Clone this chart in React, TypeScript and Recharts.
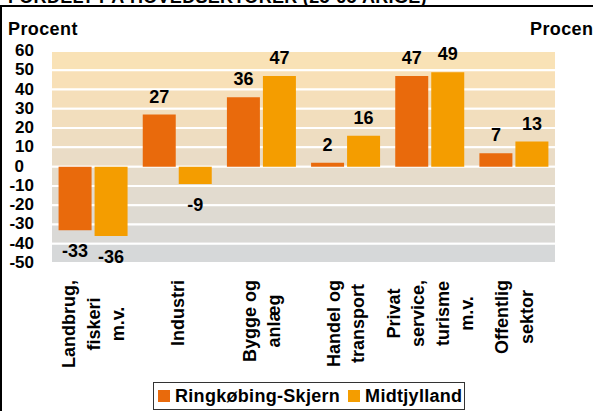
import { Bar, BarChart, LabelList, ReferenceArea, XAxis, YAxis } from 'recharts';

const categories = [
  'Landbrug,\nfiskeri\nm.v.',
  'Industri',
  'Bygge og\nanlæg',
  'Handel og\ntransport',
  'Privat\nservice,\nturisme\nm.v.',
  'Offentlig\nsektor'
];
const ringkobingSkjern = [-33, 27, 36, 2, 47, 7];
const midtjylland = [-36, -9, 47, 16, 49, 13];
const yTicks = [-50, -40, -30, -20, -10, 0, 10, 20, 30, 40, 50, 60];
const seriesNames = ['Ringkøbing-Skjern', 'Midtjylland'];

// band shades from the top band (50..60) down to the bottom one (-50..-40)
const bandColors = [
  '#F9E2B6', '#F8E0B7', '#F5DFBA', '#F2DEBD', '#EEDDC1', '#EADCC6',
  '#E6DCCB', '#E2DBCF', '#DEDAD2', '#DAD9D6', '#D6D8D9'
];

const ORANGE = '#E96A0C';
const YELLOW = '#F49D00';
const FONT = "Arial, 'Liberation Sans', Helvetica, sans-serif";

const data = categories.map((name, i) => ({
  name,
  rs: ringkobingSkjern[i],
  mj: midtjylland[i]
}));

const bands = bandColors.map((color, i) => ({
  y2: yTicks[yTicks.length - 1 - i],
  y1: yTicks[yTicks.length - 2 - i],
  color
}));

let measureCtx: CanvasRenderingContext2D | null = null;
function textWidth(s: string) {
  if (!measureCtx) {
    measureCtx = document.createElement('canvas').getContext('2d');
  }
  if (!measureCtx) return s.length * 10;
  measureCtx.font = `bold 18px ${FONT}`;
  return measureCtx.measureText(s).width;
}

function CategoryTick(props: any) {
  const { x, y, payload } = props;
  const lines: string[] = String(payload.value).split('\n');
  const maxW = Math.max(...lines.map(textWidth));
  const cy = y + 17 + maxW / 2;
  const n = lines.length;
  return (
    <g transform={`translate(${x},${cy}) rotate(-90)`}>
      {lines.map((line, i) => (
        <text
          key={i}
          x={0}
          y={(i - (n - 1) / 2) * 24.5 + 6.5}
          textAnchor="middle"
          fontSize={18}
          fontWeight="bold"
          fontFamily={FONT}
          fill="#000"
        >
          {line}
        </text>
      ))}
    </g>
  );
}

function LeftTick(props: any) {
  const { y, payload } = props;
  const v = payload.value;
  return (
    <text
      x={v === 0 ? 24 : 34}
      y={y + 5}
      textAnchor="end"
      fontSize={17}
      fontWeight="bold"
      fontFamily={FONT}
      fill="#000"
    >
      {v}
    </text>
  );
}

function RightTick(props: any) {
  const { y, payload } = props;
  return (
    <text
      x={570}
      y={y + 5}
      textAnchor="start"
      fontSize={17}
      fontWeight="bold"
      fontFamily={FONT}
      fill="#000"
    >
      {payload.value}
    </text>
  );
}

function ValueLabel(props: any) {
  const { x, y, width, height, value } = props;
  const top = Math.min(y, y + height);
  const bottom = Math.max(y, y + height);
  const ty = value < 0 ? bottom + 27 : top - 12;
  return (
    <text
      x={x + width / 2}
      y={ty}
      textAnchor="middle"
      fontSize={18}
      fontWeight="bold"
      fontFamily={FONT}
      fill="#000"
    >
      {value}
    </text>
  );
}

const textStyle = {
  position: 'absolute' as const,
  fontFamily: FONT,
  fontWeight: 'bold' as const,
  fontSize: 18,
  lineHeight: '18px',
  whiteSpace: 'nowrap' as const,
  color: '#000'
};

export default function App() {
  return (
    <div
      style={{
        position: 'absolute',
        left: 0,
        top: 0,
        width: 593,
        height: 411,
        overflow: 'hidden',
        background: '#fff'
      }}
    >
      <div style={{ ...textStyle, left: 8, top: -12, letterSpacing: 0.3 }}>
        FORDELT PÅ HOVEDSEKTORER (25-65 ÅRIGE)
      </div>
      <div
        style={{
          position: 'absolute',
          left: 0,
          top: 5,
          width: 700,
          height: 500,
          border: '2px solid #000'
        }}
      />
      <div style={{ ...textStyle, left: 8, top: 20, letterSpacing: 0.4 }}>Procent</div>
      <div style={{ ...textStyle, left: 530, top: 20, letterSpacing: 0.4 }}>Procent</div>

      <div style={{ position: 'absolute', left: 0, top: 0 }}>
        <BarChart
          width={593}
          height={411}
          data={data}
          margin={{ top: 51, right: 0, bottom: 0, left: 0 }}
          barCategoryGap="9%"
          barGap={3}
        >
          {bands.map((b, i) => (
            <ReferenceArea
              key={i}
              yAxisId="left"
              y1={b.y1}
              y2={b.y2}
              fill={b.color}
              fillOpacity={1}
              stroke="#FFFFFF"
              strokeWidth={2}
            />
          ))}
          <XAxis
            dataKey="name"
            interval={0}
            height={148}
            tickLine={false}
            axisLine={false}
            tickSize={0}
            tickMargin={0}
            tick={<CategoryTick />}
          />
          <YAxis
            yAxisId="left"
            width={51}
            domain={[-50, 60]}
            ticks={yTicks}
            interval={0}
            tickLine={false}
            axisLine={false}
            tick={<LeftTick />}
          />
          <YAxis
            yAxisId="right"
            orientation="right"
            width={37}
            domain={[-50, 60]}
            ticks={yTicks}
            interval={0}
            tickLine={false}
            axisLine={false}
            tick={<RightTick />}
          />
          <Bar dataKey="rs" name={seriesNames[0]} yAxisId="left" fill={ORANGE} isAnimationActive={false}>
            <LabelList dataKey="rs" content={<ValueLabel />} />
          </Bar>
          <Bar dataKey="mj" name={seriesNames[1]} yAxisId="left" fill={YELLOW} isAnimationActive={false}>
            <LabelList dataKey="mj" content={<ValueLabel />} />
          </Bar>
        </BarChart>
      </div>

      <div
        style={{
          position: 'absolute',
          left: 153,
          top: 382,
          width: 310,
          height: 26,
          border: '1px solid #333',
          display: 'flex',
          alignItems: 'center',
          fontFamily: FONT,
          fontWeight: 'bold',
          fontSize: 18,
          letterSpacing: 0.3,
          whiteSpace: 'nowrap'
        }}
      >
        {seriesNames.map((name, i) => (
          <div key={name} style={{ display: 'flex', alignItems: 'center', marginLeft: i === 0 ? 4 : 8 }}>
            <span
              style={{
                display: 'inline-block',
                width: 12,
                height: 12,
                background: i === 0 ? ORANGE : YELLOW,
                marginRight: 5
              }}
            />
            <span>{name}</span>
          </div>
        ))}
      </div>
    </div>
  );
}
